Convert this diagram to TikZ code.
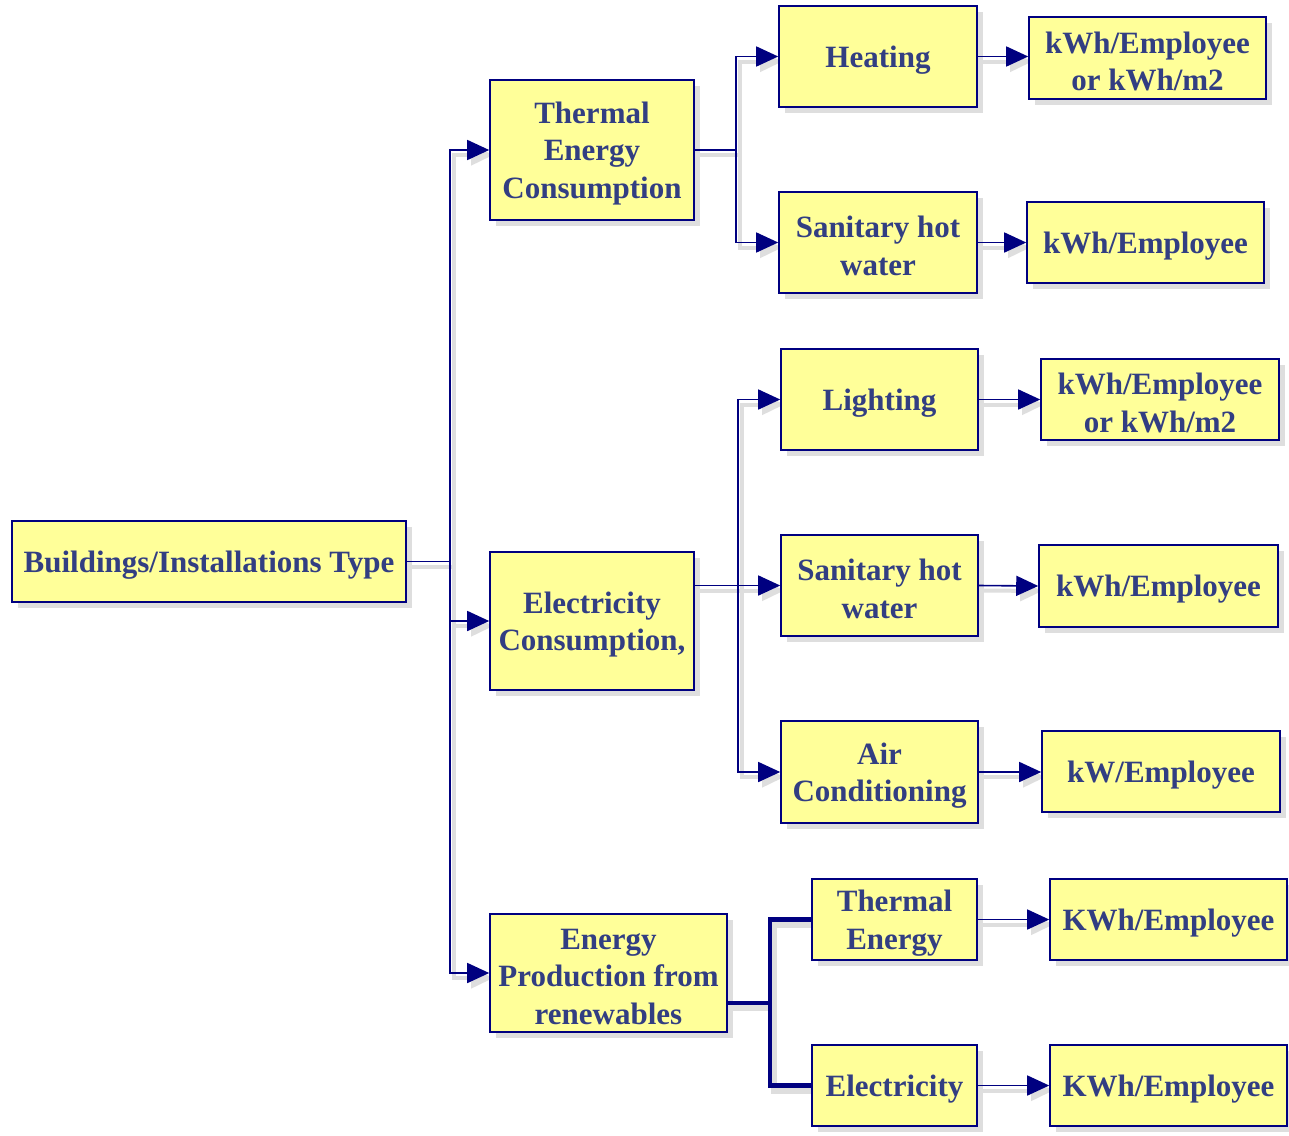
\documentclass[tikz,border=0pt]{standalone}
\usepackage{fontspec}
\setmainfont{Liberation Serif}
\usetikzlibrary{arrows.meta,shadows,calc}
\definecolor{boxfill}{RGB}{255,255,153}
\definecolor{navy}{RGB}{0,0,128}
\definecolor{txt}{RGB}{50,62,130}
\definecolor{shad}{RGB}{222,222,222}
\pgfdeclarelayer{bg}
\pgfsetlayers{bg,main}
\newcommand\myconns{%
 \draw[conn] (root.east) -- (j1);
 \draw[conn] (j1 |- thermal.west) -- (j1 |- prod.west);
 \draw[arr] (j1 |- thermal.west) -- (thermal.west);
 \draw[arr] (j1 |- elec.west) -- (elec.west);
 \draw[arr] (j1 |- prod.west) -- (prod.west);
 \draw[conn] (thermal.east) -- (j2 |- thermal.east);
 \draw[conn] (j2 |- heating.west) -- (j2 |- shw1.west);
 \draw[arr] (j2 |- heating.west) -- (heating.west);
 \draw[arr] (j2 |- shw1.west) -- (shw1.west);
 \draw[conn] (elec.east |- shw2.west) -- (j3 |- shw2.west);
 \draw[conn] (j3 |- lighting.west) -- (j3 |- air.west);
 \draw[arr] (j3 |- lighting.west) -- (lighting.west);
 \draw[arr] (j3 |- shw2.west) -- (shw2.west);
 \draw[arr] (j3 |- air.west) -- (air.west);
 \draw[thickconn] (p1) -- (j4 |- p1);
 \draw[thickconn] (te.west) -- (j4 |- te.west) -- (j4 |- el.west) -- (el.west);
 \draw[arr] (heating.east) -- (heating.east -| u1.west);
 \draw[arr] (shw1.east) -- (shw1.east -| u2.west);
 \draw[arr] (lighting.east) -- (lighting.east -| u3.west);
 \draw[arr] (shw2.east) -- (u4.west);
 \draw[arr] (air.east) -- (air.east -| u5.west);
 \draw[arr] (te.east) -- (te.east -| u6.west);
 \draw[arr] (el.east) -- (el.east -| u7.west);
}
\begin{document}
\begin{tikzpicture}[x=1pt,y=-1pt,
  boxtext/.style={text=txt, font=\bfseries\fontsize{31}{37.5}\selectfont,
    align=center, inner sep=0pt, yshift=-3.5pt},
  box/.style={draw=navy, line width=1.6pt, fill=boxfill, inner sep=0pt,
    drop shadow={shadow xshift=6pt, shadow yshift=-6pt, fill=shad, opacity=1},
    label={[boxtext]center:{#1}}},
  conn/.style={draw=navy, line width=1.6pt, line cap=rect},
  arr/.style={draw=navy, line width=1.6pt, -{Triangle[length=22pt,width=20pt]}},
  thickconn/.style={draw=navy, line width=4.5pt, line join=miter}]
\useasboundingbox (0,0) rectangle (1289,1135);
\node[box={Buildings/Installations Type}, minimum width=394pt, minimum height=81pt] (root) at (209,561.5) {};
\node[box={Thermal\\Energy\\Consumption}, minimum width=204pt, minimum height=140pt] (thermal) at (592,150) {};
\node[box={Electricity\\Consumption,}, minimum width=204pt, minimum height=138pt] (elec) at (592,621) {};
\node[box={Energy\\Production from\\renewables}, minimum width=237pt, minimum height=118pt] (prod) at (608.5,973) {};
\node[box={Heating}, minimum width=198pt, minimum height=101pt] (heating) at (878,56.5) {};
\node[box={Sanitary hot\\water}, minimum width=198pt, minimum height=101pt] (shw1) at (878,242.5) {};
\node[box={Lighting}, minimum width=197pt, minimum height=101pt] (lighting) at (879.5,399.5) {};
\node[box={Sanitary hot\\water}, minimum width=197pt, minimum height=101pt] (shw2) at (879.5,585.5) {};
\node[box={Air\\Conditioning}, minimum width=197pt, minimum height=102pt] (air) at (879.5,772) {};
\node[box={Thermal\\Energy}, minimum width=165pt, minimum height=81pt] (te) at (894.5,919.5) {};
\node[box={Electricity}, minimum width=165pt, minimum height=81pt] (el) at (894.5,1085.5) {};
\node[box={kWh/Employee\\or kWh/m2}, minimum width=237pt, minimum height=82pt] (u1) at (1147.5,58) {};
\node[box={kWh/Employee}, minimum width=237pt, minimum height=81pt] (u2) at (1145.5,242.5) {};
\node[box={kWh/Employee\\or kWh/m2}, minimum width=238pt, minimum height=81pt] (u3) at (1160,399.5) {};
\node[box={kWh/Employee}, minimum width=239pt, minimum height=82pt] (u4) at (1158.5,586) {};
\node[box={kW/Employee}, minimum width=238pt, minimum height=81pt] (u5) at (1161,771.5) {};
\node[box={KWh/Employee}, minimum width=237pt, minimum height=81pt] (u6) at (1168.5,919.5) {};
\node[box={KWh/Employee}, minimum width=237pt, minimum height=81pt] (u7) at (1168.5,1085.5) {};
\coordinate (j1) at ($(root.east)+(43,0)$);
\coordinate (j2) at (736,150);
\coordinate (j3) at (738,585.5);
\coordinate (j4) at (770,1003);
\coordinate (p1) at (727,1003);
\begin{pgfonlayer}{bg}
\fill[white] (0,0) rectangle (1289,1135);
\begin{scope}[transform canvas={shift={(4pt,-5pt)}},
  conn/.style={draw=shad, line width=4pt, line cap=rect},
  arr/.style={draw=shad, line width=4pt, -{Triangle[length=22pt,width=20pt]}},
  thickconn/.style={draw=shad, line width=6pt}]
\myconns
\end{scope}
\end{pgfonlayer}
\myconns
\end{tikzpicture}
\end{document}
